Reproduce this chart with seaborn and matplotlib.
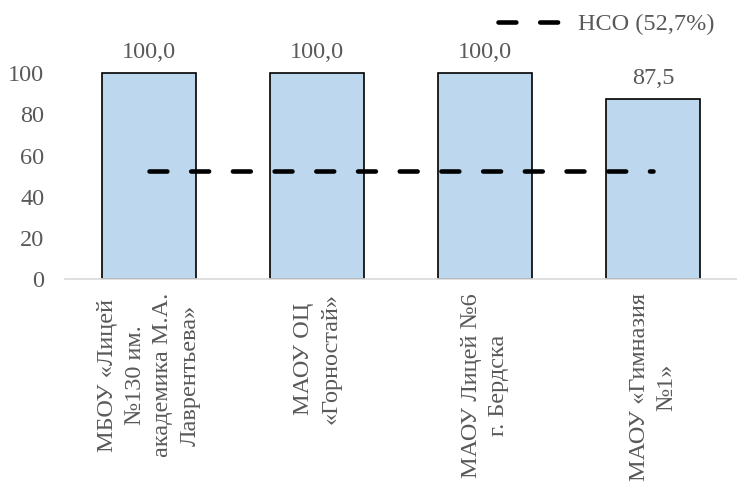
import numpy as np
import pandas as pd
import matplotlib
matplotlib.use("Agg")
import matplotlib.pyplot as plt
import seaborn as sns

categories = [
    "МБОУ «Лицей\n№130 им.\nакадемика М.А.\nЛаврентьева»",
    "МАОУ ОЦ\n«Горностай»",
    "МАОУ Лицей №6\nг. Бердска",
    "МАОУ «Гимназия\n№1»",
]
values = [100.0, 100.0, 100.0, 87.5]
value_labels = ["100,0", "100,0", "100,0", "87,5"]
nso = [52.7, 52.7, 52.7, 52.7]
nso_label = "НСО (52,7%)"
yticks = [0, 20, 40, 60, 80, 100]

sns.set_theme(style="white")
plt.rcParams["font.family"] = ["Liberation Serif", "DejaVu Serif"]
TXT = "#595959"
FS = 17.5

fig = plt.figure(figsize=(7.37, 4.83), dpi=100)
ax = fig.add_axes([65 / 737, 1 - 279 / 483, 1 - 65 / 737, (279 - 32) / 483])

df = pd.DataFrame({"cat": categories, "val": values})
sns.barplot(data=df, x="cat", y="val", ax=ax, color="#BDD7EE", saturation=1,
            edgecolor="black", linewidth=1.2, width=0.555)
for p in ax.patches:
    p.set_facecolor("#BDD7EE")

sns.lineplot(x=np.arange(len(nso)), y=nso, ax=ax, color="black", linewidth=3.3,
             linestyle=(0, (3.9, 5.2)), label=nso_label)
for ln in ax.lines:
    ln.set_dash_capstyle("round")

ax.bar_label(ax.containers[0], labels=value_labels, padding=7, fontsize=FS, color=TXT)

ax.set_ylim(0, 120)
ax.set_xlim(-0.5, 3.5)
ax.set_yticks(yticks)
ax.set_yticklabels([str(v) for v in yticks], fontsize=FS, color=TXT)
ax.set_xticks(range(len(categories)))
ax.set_xticklabels(categories, rotation=90, fontsize=FS, color=TXT,
                   ha="center", va="top", multialignment="center", linespacing=1.4)
ax.tick_params(axis="y", length=0, pad=15)
ax.tick_params(axis="x", length=0, pad=10)
ax.set_xlabel("")
ax.set_ylabel("")
for s in ["top", "right", "left"]:
    ax.spines[s].set_visible(False)
ax.spines["bottom"].set_color("#D9D9D9")
ax.spines["bottom"].set_linewidth(1.2)

leg = ax.legend(loc="center left", bbox_to_anchor=(498 / 737, 1 - 24 / 483),
                bbox_transform=fig.transFigure, frameon=False, fontsize=FS,
                borderpad=0, borderaxespad=0, handlelength=2.7, handletextpad=0.6)
for t in leg.get_texts():
    t.set_color(TXT)
for h in leg.get_lines():
    h.set_dash_capstyle("round")

fig.savefig("out.png", dpi=100)
